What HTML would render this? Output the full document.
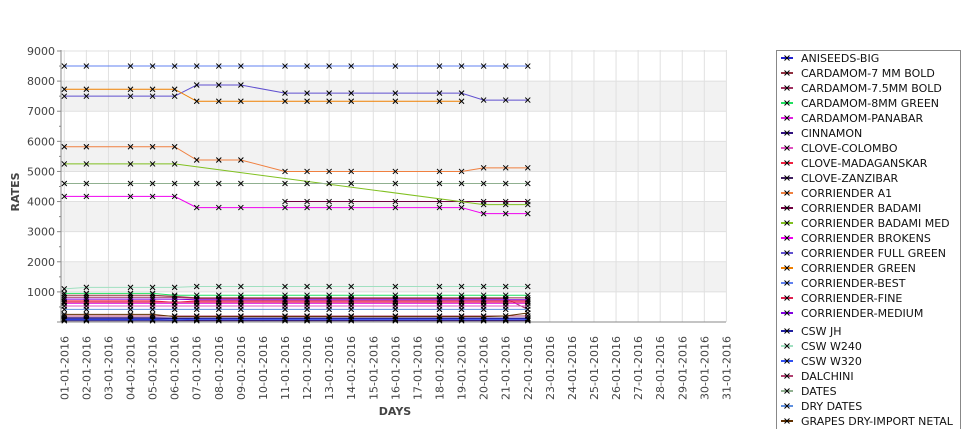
<!DOCTYPE html>
<html><head><meta charset="utf-8"><style>
body{margin:0;background:#fff;font-family:"Liberation Sans","DejaVu Sans",sans-serif;}
svg text{font-family:"DejaVu Sans","Liberation Sans",sans-serif;}
</style></head><body>
<svg id="chart" width="975" height="429" xmlns="http://www.w3.org/2000/svg"></svg>
<script>
const dayLabels=[];for(let d=1;d<=31;d++){dayLabels.push((d<10?'0':'')+d+'-01-2016');}
const dataDays=[1,2,4,5,6,7,8,9,11,12,13,14,16,18,19,20,21,22];
const yTicks=[1000,2000,3000,4000,5000,6000,7000,8000,9000];
const seriesNames=["ANISEEDS-BIG","CARDAMOM-7 MM BOLD","CARDAMOM-7.5MM BOLD","CARDAMOM-8MM GREEN","CARDAMOM-PANABAR","CINNAMON","CLOVE-COLOMBO","CLOVE-MADAGANSKAR","CLOVE-ZANZIBAR","CORRIENDER A1","CORRIENDER BADAMI","CORRIENDER BADAMI MED","CORRIENDER BROKENS","CORRIENDER FULL GREEN","CORRIENDER GREEN","CORRIENDER-BEST","CORRIENDER-FINE","CORRIENDER-MEDIUM","CSW JH","CSW W240","CSW W320","DALCHINI","DATES","DRY DATES","GRAPES DRY-IMPORT NETAL"];
const seriesColors=["#2020d0","#903040","#a03060","#20e060","#e020e0","#301080","#e050c0","#f02040","#402060","#f08040","#700040","#80c020","#f000f0","#6050d0","#f08000","#6080f0","#e02050","#8000e0","#2020a0","#a0e0c0","#3050f0","#b04070","#90b090","#6090e0","#603000"];
const N=null;
const s0=[90,90,90,90,60,60,60,60,60,60,60,60,60,60,60,60,60,60];
const s1=[890,890,890,890,850,800,800,800,800,800,800,800,800,800,800,800,800,800];
const s2=[820,820,820,820,820,780,780,780,780,780,780,780,780,780,780,780,780,420];
const s3=[950,950,950,950,890,890,890,890,890,890,890,890,890,890,890,890,890,890];
const s4=[620,620,620,620,620,620,620,620,620,620,620,620,620,620,620,620,620,620];
const s5=[143,143,143,143,130,130,130,130,130,130,130,130,130,130,130,130,130,130];
const s6=[530,530,530,530,530,530,530,530,530,530,530,530,530,530,530,530,530,530];
const s7=[700,700,700,700,650,700,700,700,700,700,700,700,700,700,700,700,700,700];
const s8=[40,40,40,40,40,40,40,40,40,40,40,40,40,40,40,40,40,40];
const s9=[5820,5820,5820,5820,5820,5380,5380,5380,5000,5000,5000,5000,5000,5000,5000,5120,5120,5120];
const s10=[N,N,N,N,N,N,N,N,4000,4000,4000,4000,4000,4000,4000,4000,4000,4000];
const s11=[5250,5250,5250,5250,5250,N,N,N,N,N,N,N,N,N,N,3900,3900,3900];
const s12=[4170,4170,4170,4170,4170,3800,3800,3800,3800,3800,3800,3800,3800,3800,3800,3600,3600,3600];
const s13=[7500,7500,7500,7500,7500,7870,7870,7870,7600,7600,7600,7600,7600,7600,7600,7370,7370,7370];
const s14=[7730,7730,7730,7730,7730,7330,7330,7330,7330,7330,7330,7330,7330,7330,7330,N,N,N];
const s15=[8500,8500,8500,8500,8500,8500,8500,8500,8500,8500,8500,8500,8500,8500,8500,8500,8500,8500];
const s16=[660,660,660,660,660,660,660,660,660,660,660,660,660,660,660,660,660,660];
const s17=[760,760,760,760,760,740,740,740,740,740,740,740,740,740,740,740,740,740];
const s18=[110,110,110,110,110,110,110,110,110,110,110,110,110,110,110,110,110,110];
const s19=[1100,1150,1150,1150,1150,1180,1180,1180,1180,1180,1180,1180,1180,1180,1180,1180,1180,1180];
const s20=[70,70,70,70,70,90,90,90,90,90,90,90,90,90,90,90,90,90];
const s21=[200,200,200,200,200,200,200,200,200,200,200,200,200,200,200,200,200,200];
const s22=[4600,4600,4600,4600,4600,4600,4600,4600,4600,4600,4600,4600,4600,4600,4600,4600,4600,4600];
const s23=[420,420,420,420,420,420,420,420,420,420,420,420,420,420,420,420,420,420];
const s24=[255,255,255,255,180,180,180,180,180,180,180,180,180,180,180,180,200,300];
const seriesValues=[s0,s1,s2,s3,s4,s5,s6,s7,s8,s9,s10,s11,s12,s13,s14,s15,s16,s17,s18,s19,s20,s21,s22,s23,s24];

const svg=document.getElementById('chart');
const NS='http://www.w3.org/2000/svg';
const PL=61,PR=726,PT=50,PB=322;
const yMax=9000;
function xScale(d){return 64.3+(d-1)*22.07;}
function yScale(v){return PB-v/yMax*(PB-51);}
function mk(tag,attrs,parent){const e=document.createElementNS(NS,tag);for(const k in attrs)e.setAttribute(k,attrs[k]);(parent||svg).appendChild(e);return e;}

const plot=mk('g',{});


mk('rect',{x:PL,y:PT,width:PR-PL,height:PB-PT,fill:'#fff'},plot);
for(let i=0;i<yTicks.length;i+=2){
  if(yTicks[i]+1000>yMax) continue;
  const band=mk('rect',{x:PL,y:yScale(yTicks[i]+1000),width:PR-PL,height:yScale(yTicks[i])-yScale(yTicks[i]+1000),fill:'#f2f2f2'},plot);
  
  
}
for(const t of yTicks){
  const g=mk('line',{x1:PL,x2:PR,y1:yScale(t),y2:yScale(t),stroke:'#e0e0e0','stroke-width':1},plot);
  
  
}
for(let d=1;d<=31;d++){
  const g=mk('line',{x1:xScale(d),x2:xScale(d),y1:PT,y2:PB,stroke:'#e0e0e0','stroke-width':1},plot);
  
  
}
const ya=mk('line',{x1:PL,x2:PL,y1:PT,y2:PB,stroke:'#888'});


const xa=mk('line',{x1:PL-4,x2:PR,y1:PB,y2:PB,stroke:'#888'});


for(const t of yTicks){
  mk('line',{x1:PL-4,x2:PL,y1:yScale(t),y2:yScale(t),stroke:'#888'});
  mk('line',{x1:PL-2,x2:PL,y1:yScale(t-500),y2:yScale(t-500),stroke:'#888'});
  const tx=mk('text',{x:PL-6,y:yScale(t)+4,'text-anchor':'end','font-size':11,fill:'#444'});
  tx.textContent=t;
  
  
}
dayLabels.forEach((lab,i)=>{
  const x=xScale(i+1);
  const tx=mk('text',{transform:`translate(${x+4},336) rotate(-90)`,'text-anchor':'end','font-size':11,fill:'#444'});
  tx.textContent=lab;
  
  
});
const yt=mk('text',{transform:'translate(19,192) rotate(-90)','text-anchor':'middle','font-size':11,'font-weight':'bold',fill:'#444'});
yt.textContent='RATES';


const xt=mk('text',{x:395,y:415,'text-anchor':'middle','font-size':11,'font-weight':'bold',fill:'#444'});
xt.textContent='DAYS';



function cross(x,y,parent){
  mk('path',{d:`M${x-2.5} ${y-2.5}L${x+2.5} ${y+2.5}M${x-2.5} ${y+2.5}L${x+2.5} ${y-2.5}`,stroke:'#000','stroke-width':1},parent);
}
seriesValues.forEach((vals,si)=>{
  const g=mk('g',{});
  
  
  const pts=[];
  vals.forEach((v,i)=>{if(v!==null)pts.push([xScale(dataDays[i]),yScale(v)]);});
  const line=mk('polyline',{points:pts.map(p=>p.join(',')).join(' '),fill:'none',stroke:seriesColors[si],'stroke-width':1},g);
  
  
  pts.forEach(p=>cross(p[0],p[1],g));
});

const lg=mk('g',{});


mk('rect',{x:776.5,y:50.5,width:184,height:390,fill:'#fff',stroke:'#888'},lg);
seriesNames.forEach((n,i)=>{
  const y=58+i*15+(i>=18?3:0);
  const e=mk('g',{},lg);
  
  
  mk('line',{x1:781,x2:793,y1:y,y2:y,stroke:seriesColors[i],'stroke-width':2},e);
  cross(787,y,e);
  const t=mk('text',{x:801,y:y+4,'font-size':11,fill:'#111'},e);
  t.textContent=n;
});
</script>
</body></html>
